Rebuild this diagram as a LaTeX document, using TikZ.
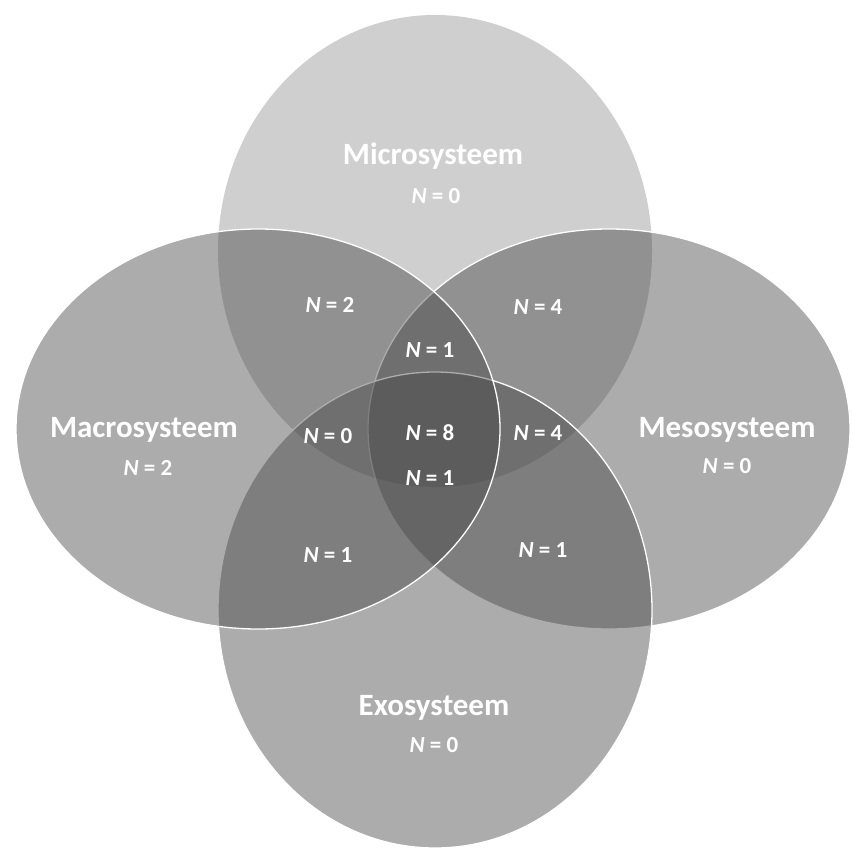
\documentclass[tikz,border=0pt]{standalone}
\usepackage{fontspec}
\setmainfont{Carlito}
\usetikzlibrary{shapes.geometric}
\definecolor{microfill}{gray}{0.81}
\definecolor{setfill}{gray}{0.28}
\tikzset{
  setshape/.style={ellipse, inner sep=0pt, draw=white, line width=1.3pt, fill=setfill, fill opacity=0.45, draw opacity=1},
  microshape/.style={ellipse, inner sep=0pt, draw=none, fill=microfill},
  title/.style={text=white, font=\bfseries\fontsize{31}{33}\selectfont, inner sep=0pt},
  count/.style={text=white, font=\bfseries\fontsize{23}{25}\selectfont, inner sep=0pt}
}
\newcommand{\nval}[1]{\textit{N} = #1}
\begin{document}
\begin{tikzpicture}[x=1pt,y=-1pt]
\useasboundingbox (0,0) rectangle (853,850);
\fill[white] (0,0) rectangle (853,850);
% sets (drawing order: Micro, Meso, Exo, Macro)
\node[microshape, minimum width=434pt, minimum height=472pt] (micro) at (435,251) {};
\node[setshape, minimum width=482pt, minimum height=400pt] (meso) at (609,429) {};
\node[setshape, minimum width=434pt, minimum height=476pt] (exo) at (435,610) {};
\node[setshape, minimum width=484pt, minimum height=400pt] (macro) at (258,429) {};
% titles
\node[title] (tmicro) at (433,156) {Microsysteem};
\node[count] (nmicro) at (436,196) {\nval{0}};
\node[title] (tmacro) at (144,430) {Macrosysteem};
\node[count] (nmacro) at (148,468) {\nval{2}};
\node[title] (tmeso) at (727,430) {Mesosysteem};
\node[count] (nmeso) at (727,466) {\nval{0}};
\node[title] (texo) at (434,708) {Exosysteem};
\node[count] (nexo) at (434,745) {\nval{0}};
% intersections
\node[count] (n1) at (330,305) {\nval{2}};
\node[count] (n2) at (538,307) {\nval{4}};
\node[count] (n3) at (430,350) {\nval{1}};
\node[count] (n4) at (328,436) {\nval{0}};
\node[count] (n5) at (430,433) {\nval{8}};
\node[count] (n6) at (538,433) {\nval{4}};
\node[count] (n7) at (430,478) {\nval{1}};
\node[count] (n8) at (328,555) {\nval{1}};
\node[count] (n9) at (543,550) {\nval{1}};
\end{tikzpicture}
\end{document}
